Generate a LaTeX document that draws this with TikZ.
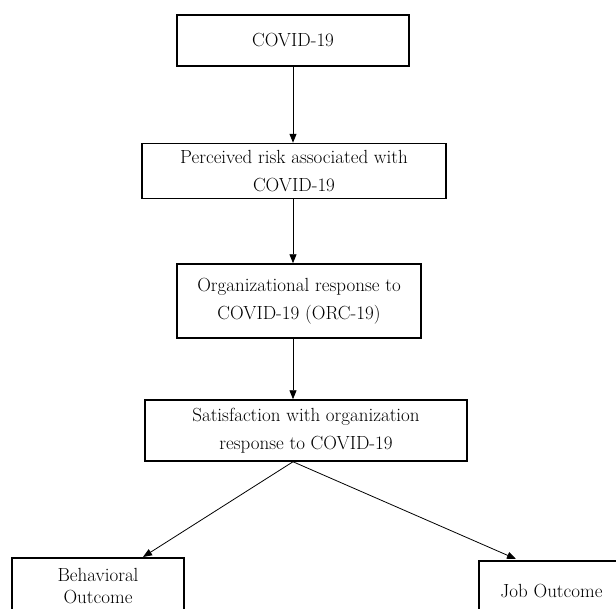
\documentclass[tikz,border=0pt]{standalone}
\usetikzlibrary{arrows.meta}
\begin{document}
\begin{tikzpicture}[x=1pt,y=-1pt,
  box/.style={draw, line width=1.5pt, align=center, inner sep=0pt, font=\fontsize{19}{28}\selectfont},
  arr/.style={-{Triangle[length=9pt,width=7pt]}, line width=0.8pt}]
\useasboundingbox (0,0) rectangle (616,608);
\node[box, minimum width=232pt, minimum height=51pt] (b1) at (293,40.5) {COVID-19};
\node[box, minimum width=304pt, minimum height=55pt] (b2) at (294,171) {Perceived risk associated with\\COVID-19};
\node[box, minimum width=244pt, minimum height=74pt] (b3) at (299,301) {Organizational response to\\COVID-19 (ORC-19)};
\node[box, minimum width=322pt, minimum height=61pt] (b4) at (306,430.5) {Satisfaction with organization\\response to COVID-19};
\node[box, minimum width=172pt, minimum height=56pt, font=\fontsize{19}{22}\selectfont] (b5) at (98,586) {Behavioral\\Outcome};
\node[box, minimum width=145pt, minimum height=60pt] (b6) at (551.5,591) {Job Outcome};
\coordinate (c1) at (293,0);
\coordinate (t5) at (143,557);
\coordinate (t6) at (516,559);
\draw[arr] (c1 |- b1.south) -- (c1 |- b2.north);
\draw[arr] (c1 |- b2.south) -- (c1 |- b3.north);
\draw[arr] (c1 |- b3.south) -- (c1 |- b4.north);
\draw[arr] (c1 |- b4.south) -- (t5);
\draw[arr] (c1 |- b4.south) -- (t6);
\end{tikzpicture}
\end{document}
